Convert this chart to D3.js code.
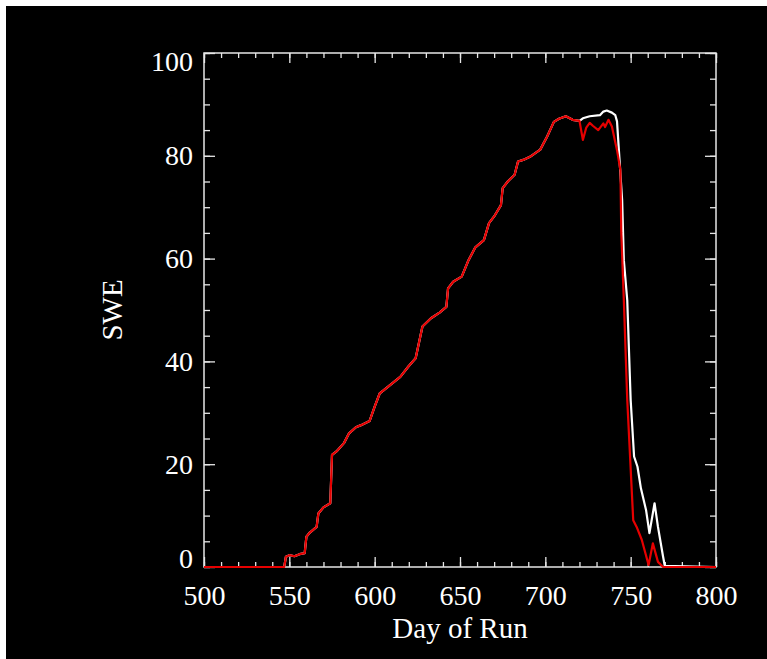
<!DOCTYPE html>
<html>
<head>
<meta charset="utf-8">
<script src="https://cdn.jsdelivr.net/npm/d3@7"></script>
<style>
  html, body { margin: 0; padding: 0; background: #fff; }
  svg { display: block; }
</style>
</head>
<body>
<svg id="chart"></svg>
<script>
// shared part of both runs (rising limb)
const days = [500, 547, 548, 550, 553, 556, 559, 560, 562, 566, 567, 570, 574, 575, 578, 582, 585, 589,
              592, 597, 600, 603, 609, 615, 620, 624, 628, 633, 638, 642, 643, 646, 651, 655, 659, 664,
              667, 670, 674, 675, 678, 682, 684, 687, 691, 697, 701, 705, 708, 712, 716, 720];
const sweShared = [0, 0, 2.0, 2.3, 2.1, 2.5, 2.7, 5.9, 6.7, 7.8, 10.4, 11.6, 12.4, 21.8, 22.6, 24.1, 26.0, 27.2,
                   27.6, 28.4, 31.2, 33.8, 35.4, 37.0, 39.1, 40.6, 46.8, 48.4, 49.5, 50.6, 54.2, 55.5, 56.5, 59.7, 62.2, 63.6,
                   66.9, 68.2, 70.4, 73.7, 75.0, 76.3, 78.9, 79.2, 79.8, 81.2, 83.7, 86.6, 87.2, 87.7, 87.0, 86.8];

// melt season, white run
const whiteDays = [722, 726, 732, 734, 736, 739, 741, 742, 745, 746, 748, 750, 752, 754, 756, 759, 761, 764, 766, 769, 770, 800];
const whiteSWE  = [87.3, 87.7, 87.9, 88.6, 88.8, 88.4, 87.9, 86.7, 71.4, 59.7, 51.9, 32.5, 21.5, 19.5, 15.3, 11.1, 6.6, 12.4, 7.8, 2.0, 0.2, 0];

// melt season, red run
const redDays = [722, 724, 726, 728, 731, 734, 735, 737, 739, 742, 744, 744.5, 746, 748, 751.5, 753.5, 756.5, 760.5, 763, 766, 769, 800];
const redSWE  = [83.1, 85.5, 86.4, 85.8, 85.0, 86.3, 85.6, 87.0, 85.7, 81.1, 77.2, 65, 51.9, 32.5, 9.1, 7.8, 5.3, 0.4, 4.6, 1.0, 0, 0];

const xTicks = [500, 550, 600, 650, 700, 750, 800];
const yTicks = [0, 20, 40, 60, 80, 100];

let layout = {"width": 767, "height": 659,
              "marginTop": 53, "marginRight": 51,
              "marginBottom": 92, "marginLeft": 204};

const font = "'Liberation Serif', 'Times New Roman', serif";
const axisColor = "#e6e6e6";

const svg = d3.select("#chart")
              .attr("width", layout.width)
              .attr("height", layout.height);

svg.append("rect").attr("width", layout.width).attr("height", layout.height).attr("fill", "#fff");
svg.append("rect").attr("x", 6).attr("y", 6)
   .attr("width", layout.width - 6).attr("height", layout.height - 6).attr("fill", "#000");

const x = d3.scaleLinear()
            .domain([500, 800])
            .range([layout.marginLeft, layout.width - layout.marginRight]);

const y = d3.scaleLinear()
            .domain([0, 100])
            .range([layout.height - layout.marginBottom, layout.marginTop]);

const [x0, x1] = x.range();
const [y0, y1] = y.range();

const xMinor = d3.range(500, 801, 10);
const yMinor = d3.range(0, 101, 5);

function styleAxis(g) {
  g.select(".domain").remove();
  g.selectAll("line").attr("stroke", axisColor).attr("stroke-width", 1.3);
}

// inward ticks on all four sides
svg.append("g").attr("transform", `translate(0,${y0})`)
   .call(d3.axisBottom(x).tickValues(xMinor).tickSize(-5).tickFormat("")).call(styleAxis);
svg.append("g").attr("transform", `translate(0,${y0})`)
   .call(d3.axisBottom(x).tickValues(xTicks).tickSize(-10).tickPadding(18).tickFormat(d3.format("d")))
   .call(styleAxis)
   .selectAll("text").attr("fill", "#fff").attr("font-family", font).attr("font-size", 28);
svg.append("g").attr("transform", `translate(0,${y1})`)
   .call(d3.axisTop(x).tickValues(xMinor).tickSize(-5).tickFormat("")).call(styleAxis);
svg.append("g").attr("transform", `translate(0,${y1})`)
   .call(d3.axisTop(x).tickValues(xTicks).tickSize(-10).tickFormat("")).call(styleAxis);

svg.append("g").attr("transform", `translate(${x0},0)`)
   .call(d3.axisLeft(y).tickValues(yMinor).tickSize(-6).tickFormat("")).call(styleAxis);
svg.append("g").attr("transform", `translate(${x0},0)`)
   .call(d3.axisLeft(y).tickValues(yTicks).tickSize(-11).tickFormat("")).call(styleAxis);
svg.append("g").attr("transform", `translate(${x1},0)`)
   .call(d3.axisRight(y).tickValues(yMinor).tickSize(-6).tickFormat("")).call(styleAxis);
svg.append("g").attr("transform", `translate(${x1},0)`)
   .call(d3.axisRight(y).tickValues(yTicks).tickSize(-11).tickFormat("")).call(styleAxis);

// y labels, end ones pulled inside the box like the original
svg.selectAll(".ylab")
   .data(yTicks)
   .join("text")
   .attr("class", "ylab")
   .attr("x", x0 - 11)
   .attr("y", d => Math.min(Math.max(y(d), y1 + 8), y0 - 9))
   .attr("dy", "0.34em")
   .attr("text-anchor", "end")
   .attr("fill", "#fff")
   .attr("font-family", font)
   .attr("font-size", 28)
   .text(d => d);

svg.append("rect")
   .attr("x", x0).attr("y", y1)
   .attr("width", x1 - x0).attr("height", y0 - y1)
   .attr("fill", "none")
   .attr("stroke", axisColor)
   .attr("stroke-width", 1.5);

const line = d3.line().x(d => x(d[0])).y(d => y(d[1]));

const shared = days.map((d, i) => [d, sweShared[i]]);
const whiteSeries = shared.concat(whiteDays.map((d, i) => [d, whiteSWE[i]]));
const redSeries = shared.concat(redDays.map((d, i) => [d, redSWE[i]]));

svg.append("path").datum(whiteSeries)
   .attr("d", line).attr("fill", "none")
   .attr("stroke", "#ffffff").attr("stroke-width", 2.2).attr("stroke-linejoin", "round");
svg.append("path").datum(redSeries)
   .attr("d", line).attr("fill", "none")
   .attr("stroke", "#e60000").attr("stroke-width", 2.2).attr("stroke-linejoin", "round");

svg.append("text")
   .attr("x", (x0 + x1) / 2).attr("y", 638)
   .attr("text-anchor", "middle")
   .attr("fill", "#fff").attr("font-family", font).attr("font-size", 29)
   .text("Day of Run");

svg.append("text")
   .attr("transform", `translate(122,${(y0 + y1) / 2}) rotate(-90)`)
   .attr("text-anchor", "middle")
   .attr("fill", "#fff").attr("font-family", font).attr("font-size", 29)
   .text("SWE");
</script>
</body>
</html>
